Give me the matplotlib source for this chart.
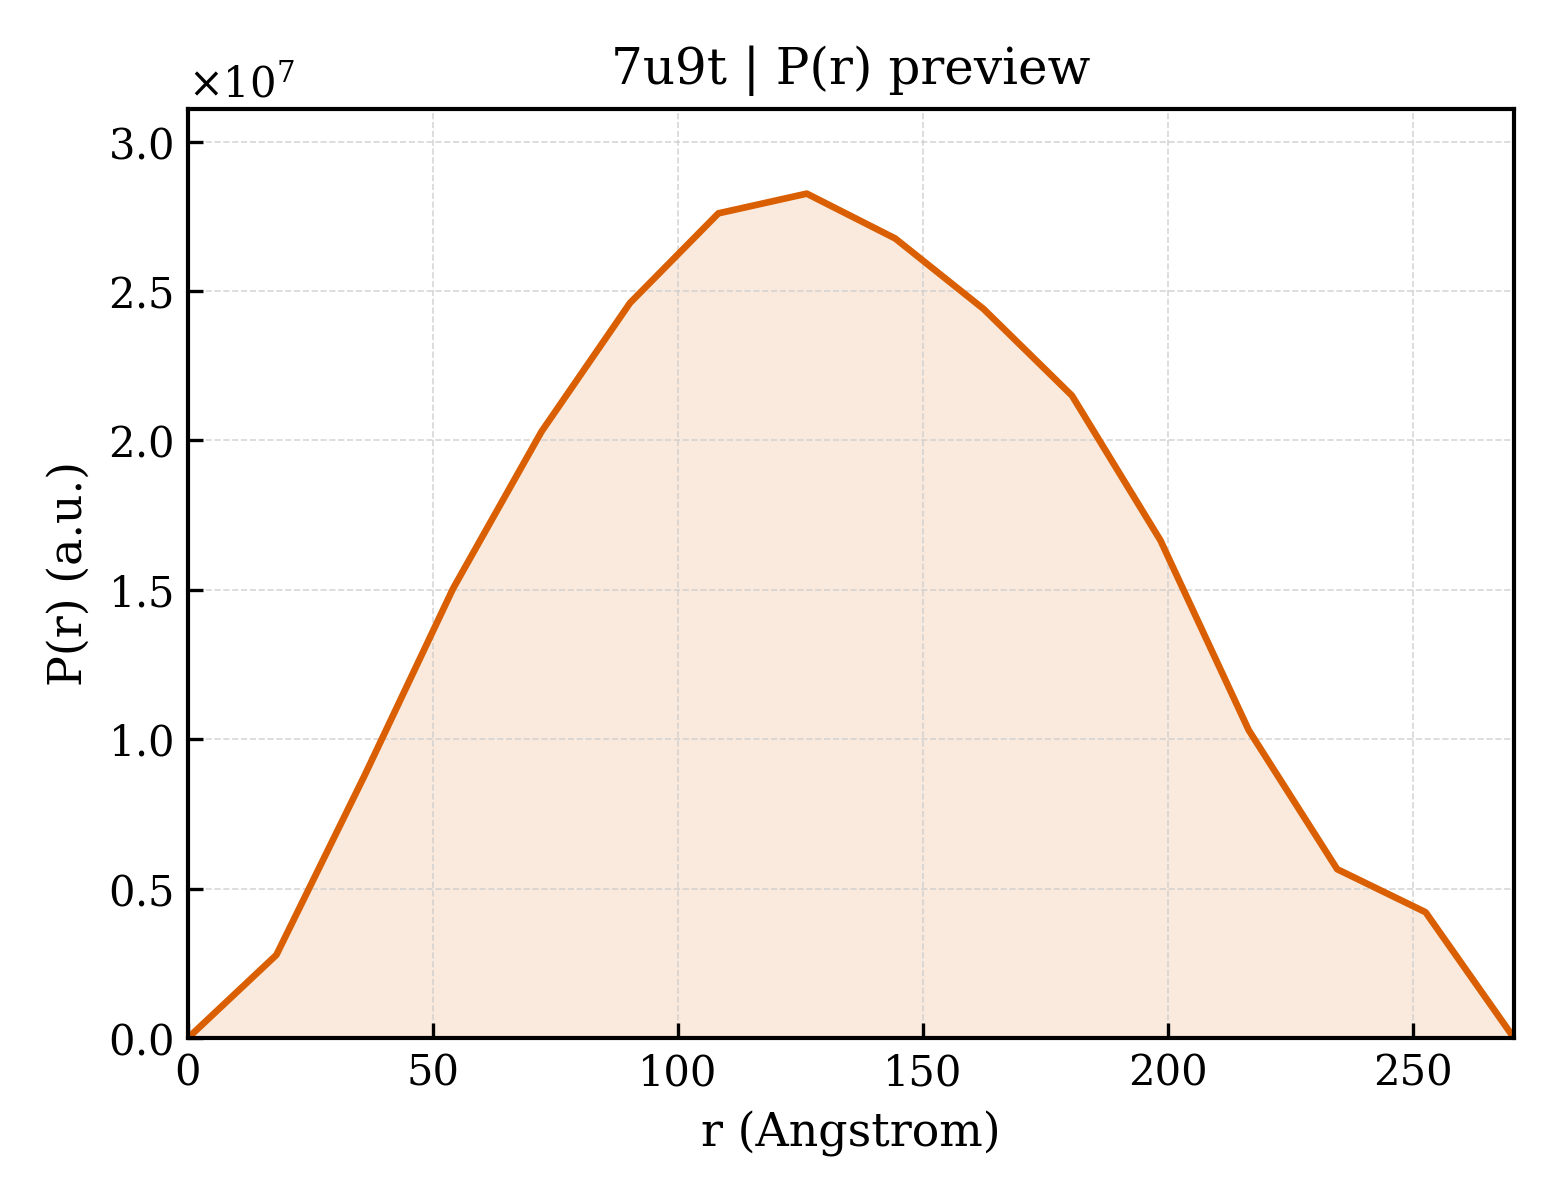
import numpy as np
import matplotlib
matplotlib.use("Agg")
import matplotlib.pyplot as plt

# P(r) values (units of 1e7)
r_max = 270.6
r = np.linspace(0, r_max, 16)
pr = np.array([0.0, 0.278, 0.88, 1.505, 2.03, 2.46, 2.76, 2.826,
               2.676, 2.44, 2.15, 1.666, 1.03, 0.565, 0.421, 0.0]) * 1e7

title = "7u9t | P(r) preview"
xlabel = "r (Angstrom)"
ylabel = "P(r) (a.u.)"

plt.rcParams['font.family'] = 'DejaVu Serif'
plt.rcParams['mathtext.fontset'] = 'dejavuserif'

fig = plt.figure(figsize=(5.2, 4), dpi=300)
ax = fig.add_axes([0.1205, 0.135, 0.85, 0.774])

color = '#d95f02'
ax.fill_between(r, pr, 0, color=color, alpha=0.13, linewidth=0)
ax.plot(r, pr, color=color, lw=1.6)

ax.set_xlim(0, r_max)
ax.set_ylim(0, pr.max() * 1.1)
ax.set_xlabel(xlabel, fontsize=11)
ax.set_ylabel(ylabel, fontsize=11)
ax.set_title(title, fontsize=12)

ax.tick_params(direction='in', labelsize=10, length=3.5, width=0.8)
ax.grid(True, ls='--', lw=0.4, color='#cccccc', alpha=0.8)
ax.ticklabel_format(axis='y', style='sci', scilimits=(0, 0), useMathText=True)
ax.yaxis.get_offset_text().set_fontsize(10)
for s in ax.spines.values():
    s.set_linewidth(1.0)

fig.savefig("out.png", dpi=300)
